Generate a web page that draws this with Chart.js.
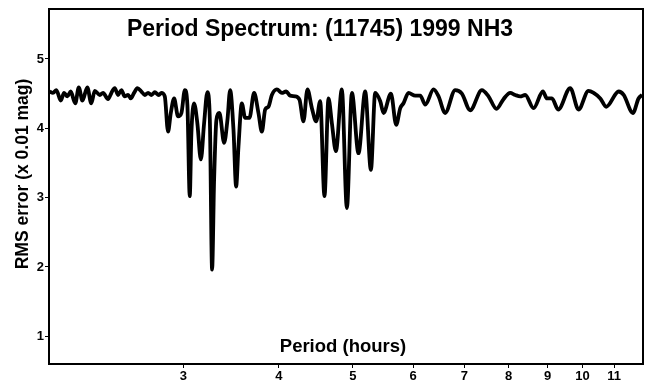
<!DOCTYPE html>
<html>
<head>
<meta charset="utf-8">
<script src="https://cdn.jsdelivr.net/npm/chart.js@4.4.1/dist/chart.umd.min.js"></script>
<style>
  body { margin: 0; background: #fff; }
  canvas { display: block; }
</style>
</head>
<body>
<canvas id="grafico" width="646" height="384"></canvas>
<script>
// period spectrum
const periods = [2.004, 2.024, 2.045, 2.072, 2.093, 2.114, 2.135, 2.165, 2.188, 2.212,
  2.245, 2.272, 2.296, 2.331, 2.354, 2.390, 2.414, 2.439, 2.463, 2.488,
  2.513, 2.539, 2.559, 2.585, 2.611, 2.643, 2.670, 2.697, 2.724, 2.752,
  2.785, 2.807, 2.836, 2.864, 2.888, 2.917, 2.952, 2.982, 3.013, 3.036,
  3.058, 3.073, 3.098, 3.129, 3.162, 3.193, 3.225, 3.249, 3.271, 3.291,
  3.314, 3.344, 3.392, 3.426, 3.454, 3.489, 3.517, 3.542, 3.578, 3.614,
  3.661, 3.713, 3.762, 3.801, 3.839, 3.877, 3.917, 3.977, 4.037, 4.090,
  4.140, 4.203, 4.258, 4.309, 4.361, 4.420, 4.477, 4.532, 4.591, 4.647,
  4.695, 4.752, 4.838, 4.912, 4.987, 5.087, 5.191, 5.281, 5.350, 5.432,
  5.486, 5.610, 5.700, 5.770, 5.827, 5.916, 6.037, 6.129, 6.222, 6.380,
  6.477, 6.607, 6.810, 6.949, 7.125, 7.381, 7.530, 7.714, 7.878, 8.039,
  8.162, 8.285, 8.412, 8.625, 8.873, 8.981, 9.118, 9.292, 9.635, 9.879,
  10.18, 10.34, 10.55, 10.74, 11.15, 11.32, 11.64, 11.84, 11.97];
const rmsError = [4.53, 4.51, 4.55, 4.40, 4.51, 4.46, 4.53, 4.36, 4.59, 4.40,
  4.59, 4.36, 4.54, 4.48, 4.51, 4.42, 4.51, 4.58, 4.48, 4.55,
  4.46, 4.48, 4.43, 4.51, 4.58, 4.53, 4.48, 4.51, 4.48, 4.52,
  4.48, 4.51, 4.46, 3.95, 4.22, 4.43, 4.17, 4.22, 4.55, 4.34,
  3.02, 3.93, 4.36, 4.07, 3.55, 4.07, 4.52, 4.12, 1.96, 3.26,
  4.12, 4.22, 3.79, 4.12, 4.55, 3.98, 3.16, 3.74, 4.36, 4.15,
  4.15, 4.51, 4.22, 3.95, 4.27, 4.31, 4.48, 4.56, 4.51, 4.53,
  4.47, 4.46, 4.41, 4.10, 4.56, 4.29, 4.10, 4.39, 3.02, 4.43,
  4.07, 3.67, 4.56, 2.85, 4.51, 3.64, 4.53, 3.40, 4.51, 4.39,
  4.22, 4.50, 4.05, 4.29, 4.36, 4.51, 4.47, 4.47, 4.34, 4.56,
  4.46, 4.22, 4.55, 4.50, 4.26, 4.55, 4.46, 4.28, 4.42, 4.51,
  4.48, 4.46, 4.48, 4.29, 4.53, 4.43, 4.43, 4.27, 4.58, 4.27,
  4.54, 4.51, 4.43, 4.31, 4.53, 4.48, 4.22, 4.43, 4.48];
const xTicks = [3, 4, 5, 6, 7, 8, 9, 10, 11];
const yTicks = [1, 2, 3, 4, 5];

const tituloGrafico = 'Period Spectrum: (11745) 1999 NH3';
const tituloX = 'Period (hours)';
const tituloY = 'RMS error (x 0.01 mag)';

Chart.defaults.font.family = "'Liberation Sans', Arial, sans-serif";
Chart.defaults.color = '#000';

// frame + texts inside the plot box
const moldura = {
    id: 'moldura',
    afterDraw(chart) {
        const { ctx, chartArea: a } = chart;
        ctx.save();
        ctx.strokeStyle = '#000';
        ctx.lineWidth = 2;
        ctx.strokeRect(a.left, a.top, a.right - a.left, a.bottom - a.top);
        ctx.fillStyle = '#000';
        ctx.textAlign = 'center';
        ctx.textBaseline = 'middle';
        ctx.font = "bold 23px 'Liberation Sans', Arial, sans-serif";
        ctx.fillText(tituloGrafico, 320, 30);
        ctx.font = "bold 18.5px 'Liberation Sans', Arial, sans-serif";
        ctx.fillText(tituloX, 343, 347);
        ctx.translate(23, 174);
        ctx.rotate(-Math.PI / 2);
        ctx.font = "bold 17.5px 'Liberation Sans', Arial, sans-serif";
        ctx.fillText(tituloY, 0, 0);
        ctx.restore();
    }
};

const ctx = document.getElementById('grafico').getContext('2d');
const grafico = new Chart(ctx, {
    type: 'line',
    data: {
        datasets: [{
            data: periods.map((p, i) => ({ x: p, y: rmsError[i] })),
            borderColor: '#000',
            borderWidth: 3.8,
            pointRadius: 0,
            cubicInterpolationMode: 'monotone',
            fill: false
        }]
    },
    options: {
        responsive: false,
        animation: false,
        layout: { padding: { top: 9, right: 3, left: 0, bottom: 0 } },
        plugins: {
            legend: { display: false },
            tooltip: { enabled: false }
        },
        scales: {
            x: {
                type: 'logarithmic',
                min: 2,
                max: 12,
                afterBuildTicks: s => { s.ticks = xTicks.map(v => ({ value: v })); },
                afterFit: s => { s.height = 20; },
                border: { display: false },
                grid: { drawOnChartArea: false, tickLength: 4, color: '#000' },
                ticks: {
                    autoSkip: false, maxRotation: 0, padding: 1,
                    font: { size: 13, weight: 'bold' },
                    callback: v => String(v)
                }
            },
            y: {
                min: 0.6,
                max: 5.72,
                afterBuildTicks: s => { s.ticks = yTicks.map(v => ({ value: v })); },
                afterFit: s => { s.width = 49; },
                border: { display: false },
                grid: { drawOnChartArea: false, tickLength: 4, color: '#000' },
                ticks: {
                    padding: 1,
                    font: { size: 13, weight: 'bold' },
                    callback: v => String(v)
                }
            }
        }
    },
    plugins: [moldura]
});
</script>
</body>
</html>
